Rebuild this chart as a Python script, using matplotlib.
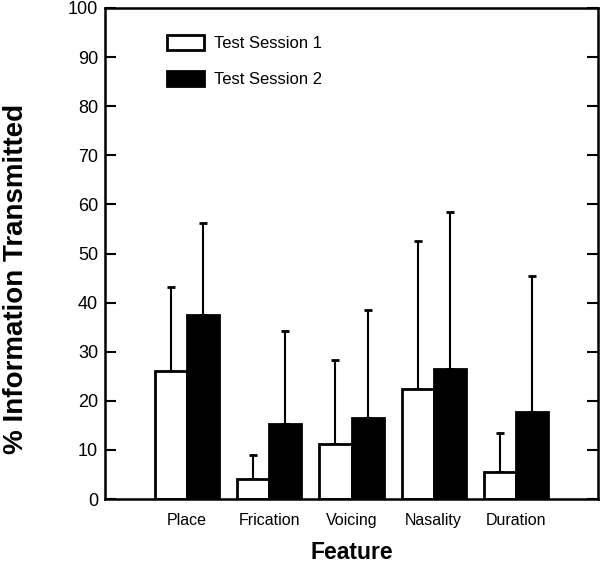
import matplotlib
matplotlib.use("Agg")
import matplotlib.pyplot as plt
import numpy as np

features = ["Place", "Frication", "Voicing", "Nasality", "Duration"]
session1 = [26.1, 4.0, 11.3, 22.5, 5.5]
session1_err = [17.1, 5.0, 17.0, 30.0, 8.0]
session2 = [37.5, 15.3, 16.5, 26.5, 17.8]
session2_err = [18.7, 18.9, 22.0, 32.0, 27.7]
yticks = [0, 10, 20, 30, 40, 50, 60, 70, 80, 90, 100]

plt.rcParams['font.family'] = ['Liberation Sans', 'DejaVu Sans']

fig = plt.figure(figsize=(6.01, 5.63), dpi=100)
ax = fig.add_axes([105/601, 1-499/563, (598-105)/601, (499-8)/563])

x = np.arange(1, len(features) + 1)
w = 0.39
ax.bar(x - w/2, session1, width=w, color='white', edgecolor='black', linewidth=2,
       label='Test Session 1', zorder=2)
ax.bar(x + w/2, session2, width=w, color='black', edgecolor='black', linewidth=2,
       label='Test Session 2', zorder=2)
ax.errorbar(x - w/2, session1, yerr=[np.zeros(5), session1_err], fmt='none',
            ecolor='black', elinewidth=1.5, capsize=3, capthick=2, zorder=1)
ax.errorbar(x + w/2, session2, yerr=[np.zeros(5), session2_err], fmt='none',
            ecolor='black', elinewidth=1.5, capsize=3, capthick=2, zorder=1)

ax.set_xlim(0, 6)
ax.set_ylim(0, 100)
ax.set_yticks(yticks)
ax.set_xticks(x)
ax.set_xticklabels(features, fontsize=11.5)
ax.tick_params(axis='x', length=0, pad=10)
ax.tick_params(axis='y', direction='in', length=8, width=1.5, right=True,
               labelsize=13, pad=5)
for s in ax.spines.values():
    s.set_linewidth(1.8)

ax.set_ylabel('% Information Transmitted', fontsize=20, fontweight='bold')
ax.yaxis.set_label_coords(-0.155, 0.448)
ax.set_xlabel('Feature', fontsize=16.5, fontweight='bold')
ax.xaxis.set_label_coords(0.5, -0.085)

leg = ax.legend(loc='upper left', bbox_to_anchor=(0.095, 0.975), frameon=False,
                fontsize=12, handlelength=2.2, handleheight=1.0,
                labelspacing=1.15, handletextpad=0.6)

fig.savefig('out.png', dpi=100)
